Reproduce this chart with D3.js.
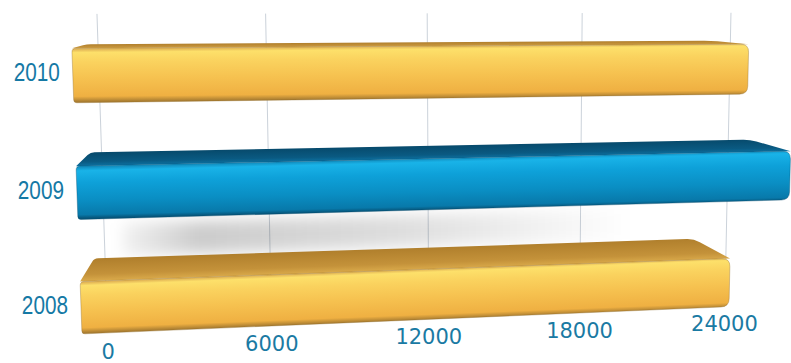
<!DOCTYPE html>
<html>
<head>
<meta charset="utf-8">
<script src="https://cdn.jsdelivr.net/npm/d3@7"></script>
<style>
  html, body { margin: 0; padding: 0; background: #ffffff; }
  svg { display: block; }
</style>
</head>
<body>
<svg id="chart" width="791" height="363"></svg>
<script>
// ---- data ----
const categories = ["2008", "2009", "2010"];
const values = [21500, 23600, 22000];
const tickValues = [0, 6000, 12000, 18000, 24000];
const tickLabels = ["0", "6000", "12000", "18000", "24000"];
const highlighted = "2009";

// ---- world scales: value runs along X, categories stack along Y (up), depth along Z ----
const x = d3.scaleLinear().domain([0, 24000]).range([0, 758]);
const y = d3.scaleBand().domain(categories).range([0, 285]).paddingInner(0.54).paddingOuter(0);
const barDepth = 120, wallZ = 224, wallTop = 316, labelY = -78;

// ---- perspective camera (yawed so the right side recedes, pitched slightly down) ----
const cam = { x: 172.8, y: 332.2, z: -1341.1, f: 1320, ox: 485, oy: 150,
              yaw: 10 * Math.PI / 180, pitch: 6.5 * Math.PI / 180 };
function project([X, Y, Z]) {
  const dx = X - cam.x, dy = Y - cam.y, dz = Z - cam.z;
  const cyw = Math.cos(cam.yaw), syw = Math.sin(cam.yaw);
  const cp = Math.cos(cam.pitch), sp = Math.sin(cam.pitch);
  const x1 = dx * cyw - dz * syw, z1 = dx * syw + dz * cyw;
  const yc = dy * cp + z1 * sp, zc = -dy * sp + z1 * cp;
  return [cam.ox + cam.f * x1 / zc, cam.oy - cam.f * yc / zc];
}

// polygon path with individually rounded corners
function roundedPath(pts, radii) {
  const p = d3.path(), n = pts.length;
  for (let i = 0; i < n; i++) {
    const c = pts[i], prev = pts[(i - 1 + n) % n], next = pts[(i + 1) % n];
    const lp = Math.hypot(prev[0] - c[0], prev[1] - c[1]);
    const ln = Math.hypot(next[0] - c[0], next[1] - c[1]);
    const rp = Math.min(radii[i], lp / 2), rn = Math.min(radii[i], ln / 2);
    const a = [c[0] + (prev[0] - c[0]) * rp / lp, c[1] + (prev[1] - c[1]) * rp / lp];
    const b = [c[0] + (next[0] - c[0]) * rn / ln, c[1] + (next[1] - c[1]) * rn / ln];
    if (i === 0) p.moveTo(a[0], a[1]); else p.lineTo(a[0], a[1]);
    p.quadraticCurveTo(c[0], c[1], b[0], b[1]);
  }
  p.closePath();
  return p.toString();
}

// gradient vector running across a quad [a0, a1, b1, b0] from edge a0-a1 to edge b0-b1,
// with colour bands parallel to those long edges
function acrossGradient(id, a0, a1, b1, b0, stops) {
  const norm = v => { const l = Math.hypot(v[0], v[1]); return [v[0] / l, v[1] / l]; };
  const e1 = norm([a1[0] - a0[0], a1[1] - a0[1]]), e2 = norm([b1[0] - b0[0], b1[1] - b0[1]]);
  const dir = norm([e1[0] + e2[0], e1[1] + e2[1]]);
  const n = [-dir[1], dir[0]];
  const ma = [(a0[0] + a1[0]) / 2, (a0[1] + a1[1]) / 2];
  const mb = [(b0[0] + b1[0]) / 2, (b0[1] + b1[1]) / 2];
  const dist = (mb[0] - ma[0]) * n[0] + (mb[1] - ma[1]) * n[1];
  const g = defs.append("linearGradient").attr("id", id).attr("gradientUnits", "userSpaceOnUse")
    .attr("x1", ma[0]).attr("y1", ma[1])
    .attr("x2", ma[0] + n[0] * dist).attr("y2", ma[1] + n[1] * dist);
  stops.forEach(([o, col]) => g.append("stop").attr("offset", o).attr("stop-color", col));
  return `url(#${id})`;
}

const palette = {
  gold: {
    top: [["0", "#b07f2c"], ["0.7", "#c4923a"], ["1", "#d9a94a"]],
    front: [["0", "#e2b556"], ["0.06", "#fde06a"], ["0.25", "#fad25e"], ["0.55", "#f6c250"], ["0.9", "#efb042"], ["1", "#a97d31"]],
    edge: "#8d6a2c"
  },
  blue: {
    top: [["0", "#074a6c"], ["0.7", "#0a5a82"], ["1", "#0c6f9e"]],
    front: [["0", "#1290c2"], ["0.07", "#19b3e8"], ["0.3", "#0ea1d9"], ["0.65", "#0a8ec3"], ["0.93", "#0879aa"], ["1", "#06557a"]],
    edge: "#064a6a"
  }
};

const svg = d3.select("#chart");
const defs = svg.append("defs");

defs.append("filter").attr("id", "soft").attr("x", "-20%").attr("y", "-60%").attr("width", "140%").attr("height", "220%")
  .append("feGaussianBlur").attr("stdDeviation", 7);

// ---- back wall gridlines ----
const wall = svg.append("g");
wall.selectAll("line.grid")
  .data(tickValues)
  .join("line")
  .attr("class", "grid")
  .each(function (t) {
    const a = project([x(t), 0, wallZ]), b = project([x(t), wallTop, wallZ]);
    d3.select(this).attr("x1", a[0]).attr("y1", a[1]).attr("x2", b[0]).attr("y2", b[1]);
  })
  .attr("stroke", "#cbd2da")
  .attr("stroke-width", 1);

// ---- soft shadow of the highlighted bar on the wall ----
categories.forEach((c, i) => {
  if (c !== highlighted) return;
  const Y0 = y(c) - 80, Y1 = y(c) - 42;
  const X0 = x(0) + 20, X1 = x(values[i]) * 0.85;
  const pts = [[X0, Y0, wallZ], [X1, Y0, wallZ], [X1, Y1, wallZ], [X0, Y1, wallZ]].map(project);
  const g = defs.append("linearGradient").attr("id", "shadowGrad").attr("gradientUnits", "userSpaceOnUse")
    .attr("x1", pts[0][0]).attr("y1", 0).attr("x2", pts[1][0]).attr("y2", 0);
  g.append("stop").attr("offset", "0").attr("stop-color", "#000").attr("stop-opacity", 0.05);
  g.append("stop").attr("offset", "0.15").attr("stop-color", "#000").attr("stop-opacity", 0.2);
  g.append("stop").attr("offset", "0.55").attr("stop-color", "#000").attr("stop-opacity", 0.13);
  g.append("stop").attr("offset", "1").attr("stop-color", "#000").attr("stop-opacity", 0);
  wall.append("path")
    .attr("d", d3.line()(pts) + "Z")
    .attr("fill", "url(#shadowGrad)")
    .attr("filter", "url(#soft)");
});

// ---- bars ----
const bars = svg.append("g");
categories.slice().reverse().forEach(c => {
  const i = categories.indexOf(c);
  const pal = c === highlighted ? palette.blue : palette.gold;
  const X0 = x(0), X1 = x(values[i]);
  const Y0 = y(c), Y1 = y(c) + y.bandwidth();
  const Z0 = 0, Z1 = barDepth;

  // top: front-left, front-right, back-right, back-left
  const top = [[X0, Y1, Z0], [X1, Y1, Z0], [X1, Y1, Z1], [X0, Y1, Z1]].map(project);
  // front: bottom-left, bottom-right, top-right, top-left
  const front = [[X0, Y0, Z0], [X1, Y0, Z0], [X1, Y1, Z0], [X0, Y1, Z0]].map(project);

  const topFill = acrossGradient("top" + c, top[3], top[2], top[1], top[0], pal.top);
  const frontFill = acrossGradient("front" + c, front[3], front[2], front[1], front[0], pal.front);

  const g = bars.append("g");
  g.append("path")
    .attr("d", roundedPath(top, [0, 0, 7, 4]))
    .attr("fill", topFill);
  g.append("path")
    .attr("d", roundedPath(front, [3, 8, 8, 4]))
    .attr("fill", frontFill)
    .attr("stroke", pal.edge)
    .attr("stroke-width", 0.6)
    .attr("stroke-opacity", 0.6);
});

// ---- value axis labels along the floor ----
svg.append("g").selectAll("text")
  .data(tickValues)
  .join("text")
  .attr("x", t => project([x(t), labelY, wallZ])[0])
  .attr("y", t => project([x(t), labelY, wallZ])[1])
  .attr("text-anchor", "middle")
  .attr("dominant-baseline", "central")
  .attr("font-family", "'DejaVu Sans', sans-serif")
  .attr("font-size", 21)
  .attr("fill", "#1a7aa3")
  .text((t, i) => tickLabels[i]);

// ---- category labels (narrow face) ----
svg.append("g").selectAll("text")
  .data(categories)
  .join("text")
  .attr("transform", c => {
    const p = project([x(0), y(c) + y.bandwidth() / 2, 0]);
    return `translate(${p[0] - 13},${p[1] - 3}) scale(0.83,1)`;
  })
  .attr("text-anchor", "end")
  .attr("dominant-baseline", "central")
  .attr("font-family", "'Liberation Sans', Arial, sans-serif")
  .attr("font-size", 25)
  .attr("fill", "#1579a5")
  .text(c => c);
</script>
</body>
</html>
